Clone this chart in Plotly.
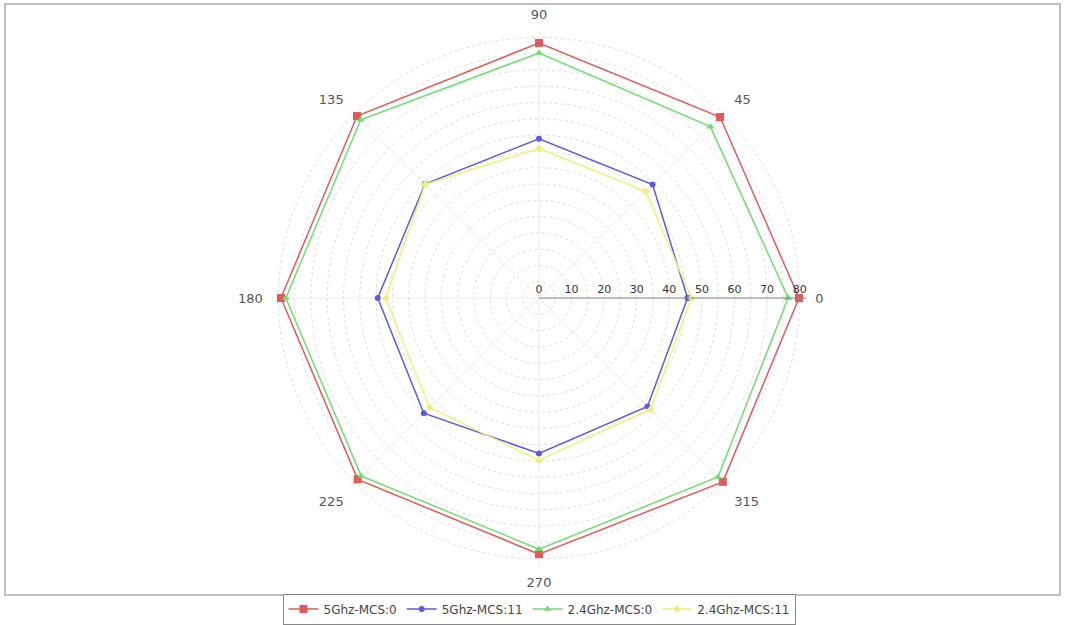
import plotly.graph_objects as go

angles = [0, 45, 90, 135, 180, 225, 270, 315]
angle_labels = ["0", "45", "90", "135", "180", "225", "270", "315"]

s5_mcs0 = [79.8, 78.6, 78.3, 79.0, 79.2, 78.7, 78.6, 79.8]
s5_mcs11 = [45.6, 49.3, 48.9, 49.5, 49.5, 50.0, 47.7, 47.1]
s24_mcs0 = [76.5, 74.4, 75.2, 77.4, 77.7, 77.2, 77.1, 77.7]
s24_mcs11 = [46.8, 46.3, 45.9, 49.4, 47.1, 47.5, 49.8, 48.4]

series_names = ["5Ghz-MCS:0", "5Ghz-MCS:11", "2.4Ghz-MCS:0", "2.4Ghz-MCS:11"]
series_values = [s5_mcs0, s5_mcs11, s24_mcs0, s24_mcs11]
colors = ["#e25a5a", "#5a5ae6", "#6ede6e", "#f0f07a"]
symbols = ["square", "circle", "triangle-up", "diamond"]
msizes = [8, 6, 7, 6]

radial_ticks = list(range(0, 85, 5))
radial_text = [str(v) if v % 10 == 0 else "" for v in radial_ticks]

fig = go.Figure()
for name, vals, c, sym, ms in zip(series_names, series_values, colors, symbols, msizes):
    fig.add_trace(go.Scatterpolar(
        r=vals + vals[:1],
        theta=angles + angles[:1],
        mode="lines+markers",
        name=name,
        line=dict(color=c, width=1.5),
        marker=dict(color=c, symbol=sym, size=ms),
    ))

W, H = 1066, 625
cx, cy, R = 539, 299, 268
fig.update_layout(
    width=W, height=H,
    margin=dict(l=0, r=0, t=0, b=0),
    paper_bgcolor="white",
    plot_bgcolor="white",
    font=dict(family="DejaVu Sans, sans-serif", color="#444"),
    polar=dict(
        domain=dict(x=[(cx - R) / W, (cx + R) / W], y=[(H - cy - R) / H, (H - cy + R) / H]),
        bgcolor="white",
        radialaxis=dict(
            range=[0, 82],
            angle=0,
            tickangle=0,
            side="counterclockwise",
            tickvals=radial_ticks,
            ticktext=radial_text,
            tickfont=dict(size=11, color="#333"),
            showline=True,
            linecolor="#888",
            linewidth=1,
            gridcolor="#dcdcdc",
            griddash="dot",
            gridwidth=1,
            ticks="",
        ),
        angularaxis=dict(
            tickvals=angles,
            ticktext=angle_labels,
            direction="counterclockwise",
            rotation=0,
            showline=False,
            gridcolor="#ececec",
            gridwidth=1,
            ticks="outside",
            ticklen=6,
            tickcolor="rgba(0,0,0,0)",
            tickfont=dict(size=13, color="#555"),
        ),
    ),
    legend=dict(
        orientation="h",
        x=cx / W, xanchor="center",
        y=(H - 611) / H, yanchor="middle",
        bordercolor="#888", borderwidth=1,
        bgcolor="white",
        font=dict(size=12, color="#444"),
        itemwidth=30,
        tracegroupgap=0,
    ),
    shapes=[dict(
        type="rect", xref="paper", yref="paper",
        x0=5 / W, x1=1060 / W, y0=(H - 597) / H, y1=(H - 4) / H,
        line=dict(color="#aaa", width=1.5), fillcolor="rgba(0,0,0,0)", layer="below",
    )],
)

fig.write_html(
    "out.html",
    config={"displayModeBar": False},
    post_script="document.body.style.margin='0';document.body.style.overflow='hidden';",
)
